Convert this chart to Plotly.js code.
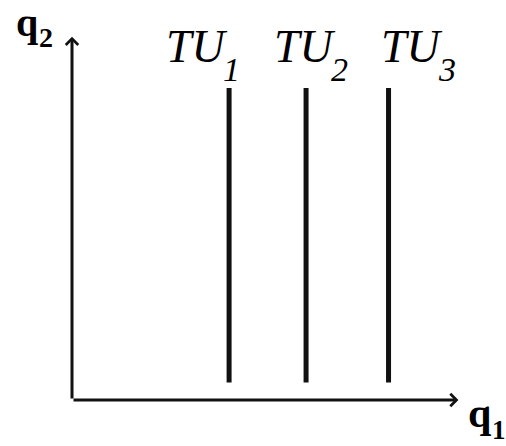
<!DOCTYPE html>
<html><head><meta charset="utf-8">
<script src="https://cdn.plot.ly/plotly-3.0.1.min.js"></script>
<style>html,body{margin:0;padding:0;background:#fff}#chart{width:506px;height:446px}</style>
</head><body><div id="chart"></div>
<script>
// Total-utility levels (vertical lines)
const levelMain = ["TU", "TU", "TU"];
const levelSubs = ["1", "2", "3"];
const levelQ1 = [2.0, 2.98, 4.03];
const levelQ2Start = [0.22, 0.22, 0.22];
const levelQ2End = [3.9, 3.9, 3.9];
// label anchor positions (data units)
const labelQ1 = [1.17, 2.54, 3.91];
const labelQ2 = [4.21, 4.21, 4.21];
const subQ2 = [3.975, 3.975, 3.975];
// axes
const axisQ1Max = 4.92;
const axisQ2Max = 4.54;
const xAxisMain = "q", xAxisSub = "1";
const yAxisMain = "q", yAxisSub = "2";

const ink = "#111";
const traces = levelSubs.map((s, i) => ({
  type: "scatter", mode: "lines", name: levelMain[i] + s,
  x: [levelQ1[i], levelQ1[i]],
  y: [levelQ2Start[i], levelQ2End[i]],
  line: {color: ink, width: 5},
  hoverinfo: "skip", showlegend: false
}));

const serif = "Liberation Serif";
const annotations = [
  {xref:"x", yref:"y", x: axisQ1Max, y: 0, axref:"x", ayref:"y", ax: 0, ay: 0,
   showarrow:true, arrowhead:4, arrowsize:0.8, arrowwidth:3, arrowcolor:ink, text:"", standoff:0},
  {xref:"x", yref:"y", x: 0, y: axisQ2Max, axref:"x", ayref:"y", ax: 0, ay: 0,
   showarrow:true, arrowhead:4, arrowsize:0.8, arrowwidth:3, arrowcolor:ink, text:"", standoff:0},
  // y axis title q2
  {xref:"x", yref:"y", x: 0, y: axisQ2Max, xanchor:"left", yanchor:"bottom", xshift:-58, yshift:-10,
   showarrow:false, text:"<b>" + yAxisMain + "</b>", font:{family:serif, size:40, color:"#000"}},
  {xref:"x", yref:"y", x: 0, y: axisQ2Max, xanchor:"left", yanchor:"bottom", xshift:-35, yshift:-18,
   showarrow:false, text:"<b>" + yAxisSub + "</b>", font:{family:serif, size:28, color:"#000"}},
  // x axis title q1
  {xref:"x", yref:"y", x: axisQ1Max, y: 0, xanchor:"left", yanchor:"bottom", xshift:8, yshift:-38,
   showarrow:false, text:"<b>" + xAxisMain + "</b>", font:{family:serif, size:42, color:"#000"}},
  {xref:"x", yref:"y", x: axisQ1Max, y: 0, xanchor:"left", yanchor:"bottom", xshift:32, yshift:-47,
   showarrow:false, text:"<b>" + xAxisSub + "</b>", font:{family:serif, size:27, color:"#000"}}
];
levelSubs.forEach((s, i) => {
  annotations.push({
    xref:"x", yref:"y", x: labelQ1[i], y: labelQ2[i], xanchor:"left", yanchor:"bottom",
    xshift: 0, yshift: -10.7, showarrow:false,
    text: "<i>" + levelMain[i] + "</i>",
    font:{family:serif, size:46, color:"#000"}
  });
  annotations.push({
    xref:"x", yref:"y", x: labelQ1[i], y: subQ2[i], xanchor:"left", yanchor:"bottom",
    xshift: 57, yshift: -8.3, showarrow:false,
    text: "<i>" + s + "</i>",
    font:{family:serif, size:34, color:"#000"}
  });
});

const layout = {
  width: 506, height: 446,
  margin: {l:72, r:2.25, t:0, b:46, pad:0},
  paper_bgcolor:"#fff", plot_bgcolor:"#fff",
  xaxis: {range:[0, 5.5], visible:false, fixedrange:true},
  yaxis: {range:[0, 5], visible:false, fixedrange:true},
  annotations: annotations,
  showlegend: false
};
Plotly.newPlot("chart", traces, layout, {staticPlot:true, displayModeBar:false});
</script></body></html>
